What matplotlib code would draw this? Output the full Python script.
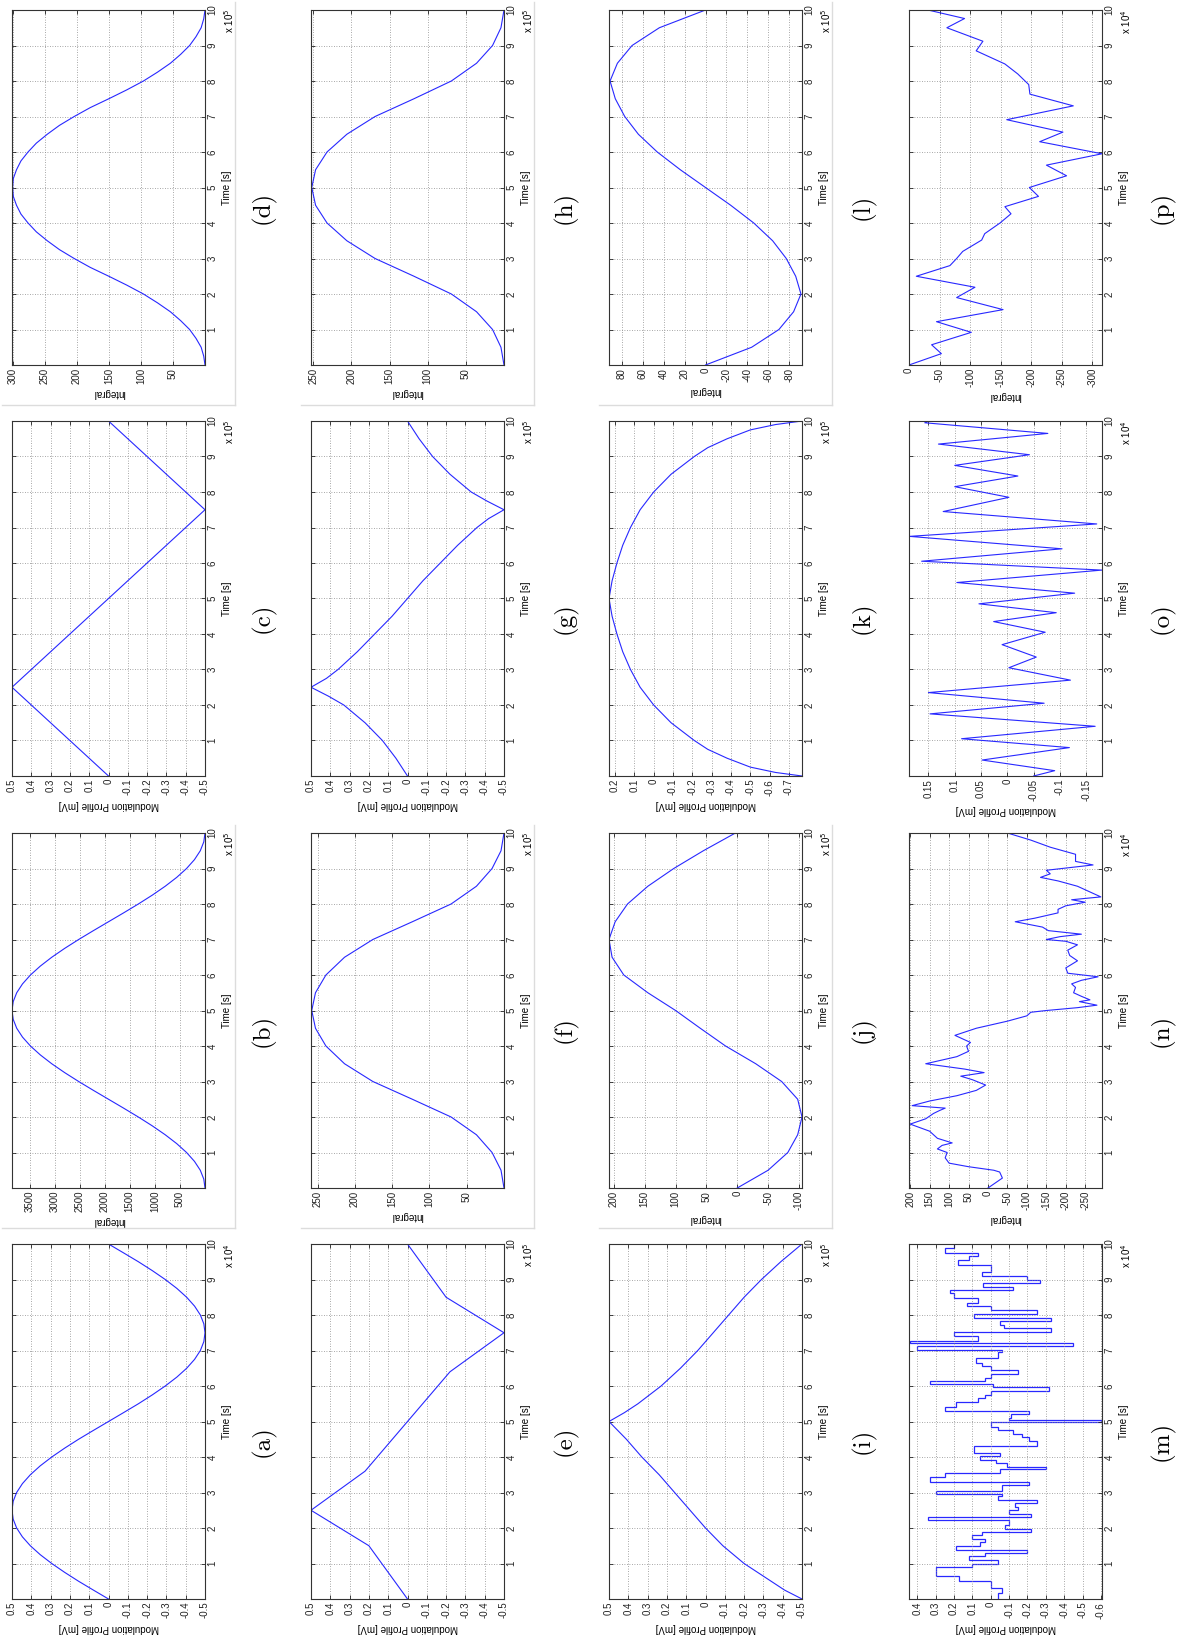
import matplotlib
matplotlib.use("Agg")
import matplotlib.pyplot as plt
from matplotlib.lines import Line2D
from matplotlib.transforms import offset_copy

# ---- data (time in units of 10^4 / 10^5 s, as on the axes) ----
t_half = [0, 0.5, 1, 1.5, 2, 2.5, 3, 3.5, 4, 4.5, 5,
          5.5, 6, 6.5, 7, 7.5, 8, 8.5, 9, 9.5, 10]
t_quarter = [0, 0.25, 0.5, 0.75, 1, 1.25, 1.5, 1.75, 2, 2.25, 2.5, 2.75, 3, 3.25, 3.5,
             3.75, 4, 4.25, 4.5, 4.75, 5, 5.25, 5.5, 5.75, 6, 6.25, 6.5, 6.75, 7, 7.25,
             7.5, 7.75, 8, 8.25, 8.5, 8.75, 9, 9.25, 9.5, 9.75, 10]

a_vals = [0, 0.078, 0.155, 0.227, 0.294, 0.354, 0.405, 0.446, 0.476, 0.494, 0.5,
          0.494, 0.476, 0.446, 0.405, 0.354, 0.294, 0.227, 0.155, 0.078, 0,
          -0.078, -0.155, -0.227, -0.294, -0.354, -0.405, -0.446, -0.476, -0.494, -0.5,
          -0.494, -0.476, -0.446, -0.405, -0.354, -0.294, -0.227, -0.155, -0.078, 0]
b_vals = [0, 24, 94, 210, 368, 564, 794, 1051, 1330, 1624, 1925, 2226, 2520, 2799, 3057,
          3286, 3482, 3640, 3756, 3826, 3850, 3826, 3756, 3640, 3482, 3286, 3057, 2799, 2520,
          2226, 1925, 1624, 1330, 1051, 794, 564, 368, 210, 94, 24, 0]

c_t = [0, 2.5, 7.5, 10]
c_vals = [0, 0.5, -0.5, 0]
d_vals = [0, 2, 6, 14, 24, 38, 54, 74, 96, 122, 150, 179, 204, 227, 246, 263, 276, 287, 294,
          299, 300, 299, 294, 287, 276, 263, 246, 227, 204, 179, 150, 122, 96, 74, 54, 38, 24,
          14, 6, 2, 0]

e_t = [0, 1.5, 2.5, 3.6, 6.4, 7.5, 8.5, 10]
e_vals = [0, 0.2, 0.5, 0.22, -0.22, -0.5, -0.2, 0]
f_vals = [0, 4, 16, 37, 71, 123, 176, 214, 239, 253, 258,
          253, 239, 214, 176, 123, 71, 37, 16, 4, 0]

g_t = [0, 0.5, 1, 1.5, 2, 2.25, 2.5, 2.75, 3, 3.5, 4, 4.5, 5,
       5.5, 6, 6.5, 7, 7.25, 7.5, 7.75, 8, 8.5, 9, 9.5, 10]
g_vals = [0, 0.06, 0.13, 0.22, 0.33, 0.41, 0.5, 0.42, 0.36, 0.26, 0.17, 0.08, 0,
          -0.08, -0.17, -0.26, -0.36, -0.42, -0.5, -0.41, -0.33, -0.22, -0.13, -0.06, 0]
h_vals = [0, 4, 15, 36, 69, 118, 169, 206, 232, 247, 252,
          247, 232, 206, 169, 118, 69, 36, 15, 4, 0]

i_t = [0, 0.25, 0.5, 1, 1.5, 2, 2.5, 3, 3.5, 4, 4.5, 5,
       5.25, 5.5, 6, 6.5, 7, 7.5, 8, 8.5, 9, 9.5, 10]
i_vals = [-0.5, -0.41, -0.34, -0.2, -0.09, 0.0, 0.08, 0.16, 0.24, 0.33, 0.41, 0.5,
          0.42, 0.35, 0.23, 0.13, 0.04, -0.04, -0.12, -0.2, -0.29, -0.39, -0.5]
j_vals = [0, -50, -82, -98, -105, -98, -72, -30, 19, 60, 100,
          145, 184, 203, 208, 198, 178, 145, 103, 55, 3]

k_t = [0, 0.1, 0.25, 0.5, 0.75, 1, 1.5, 2, 2.5, 3, 3.5, 4, 4.5, 5,
       5.5, 6, 6.5, 7, 7.5, 8, 8.5, 9, 9.25, 9.5, 9.75, 9.9, 10]
k_vals = [-0.767, -0.63, -0.5, -0.38, -0.28, -0.21, -0.09, 0.0, 0.07, 0.12, 0.16, 0.19, 0.215, 0.231,
          0.215, 0.19, 0.16, 0.12, 0.07, 0.0, -0.09, -0.21, -0.28, -0.38, -0.5, -0.63, -0.767]
l_vals = [0, -44, -70, -84, -91, -86, -77, -64, -46, -24, 0,
          24, 46, 64, 77, 86, 91, 84, 70, 44, 0]

m_edges = [0, 0.17, 0.32, 0.5, 0.65, 0.9, 0.98, 1.1, 1.2, 1.3, 1.38, 1.5, 1.6, 1.7, 1.8,
           1.9, 1.97, 2.08, 2.22, 2.32, 2.4, 2.5, 2.6, 2.7, 2.8, 2.9, 2.95, 3.05, 3.2, 3.3,
           3.43, 3.55, 3.65, 3.72, 3.82, 3.92, 4.02, 4.1, 4.3, 4.45, 4.55, 4.65, 4.75, 4.85,
           4.98, 5.03, 5.1, 5.2, 5.3, 5.42, 5.55, 5.65, 5.75, 5.85, 5.97, 6.05, 6.15, 6.22,
           6.35, 6.45, 6.55, 6.65, 6.8, 6.95, 7.02, 7.12, 7.2, 7.28, 7.4, 7.52, 7.62, 7.72,
           7.82, 7.92, 8.02, 8.15, 8.25, 8.35, 8.48, 8.62, 8.7, 8.8, 8.9, 8.98, 9.1, 9.2,
           9.4, 9.55, 9.65, 9.75, 9.88, 10.0]
m_vals = [-0.04, -0.06, 0.0, 0.17, 0.30, 0.10, -0.04, 0.12, 0.03, -0.2, 0.19, 0.06, 0.03, 0.1,
          0.05, -0.22, -0.08, -0.1, 0.34, -0.22, -0.1, -0.15, -0.13, -0.25, -0.04, -0.06, 0.3,
          -0.06, -0.21, 0.33, 0.25, -0.05, -0.3, -0.09, -0.03, 0.06, -0.05, 0.09, -0.25, -0.21,
          -0.17, -0.12, -0.04, 0.0, -0.6, -0.1, -0.11, -0.21, 0.25, 0.19, 0.07, 0.03, 0.0,
          -0.32, -0.01, 0.33, 0.03, 0.0, -0.15, 0.0, 0.05, 0.08, -0.04, -0.06, 0.4, -0.45,
          0.44, 0.07, 0.2, -0.33, -0.07, -0.05, -0.33, 0.09, -0.25, 0.0, 0.13, 0.07, 0.2,
          0.22, -0.12, 0.04, -0.27, -0.2, 0.05, 0.0, 0.18, 0.12, 0.07, 0.25, 0.2]

n_t = [0, 0.28, 0.45, 0.5, 0.6, 0.7, 0.85, 1.0, 1.1, 1.2, 1.27, 1.4, 1.6, 1.8, 1.95, 2.1,
       2.18, 2.25, 2.32, 2.45, 2.6, 2.75, 2.9, 3.05, 3.15, 3.25, 3.35, 3.5, 3.6, 3.7, 3.85,
       4.0, 4.1, 4.3, 4.5, 4.7, 4.85, 4.95, 5.0, 5.08, 5.15, 5.25, 5.3, 5.4, 5.5, 5.65, 5.75,
       5.85, 5.95, 6.05, 6.2, 6.4, 6.55, 6.7, 6.85, 6.95, 7.0, 7.08, 7.15, 7.25, 7.35, 7.5,
       7.6, 7.75, 7.85, 7.95, 8.05, 8.12, 8.2, 8.35, 8.5, 8.65, 8.75, 8.85, 8.95, 9.1, 9.2,
       9.4, 9.6, 9.8, 10.0]
n_vals = [0, -37, -30, -15, 50, 100, 110, 105, 130, 118, 92, 130, 150, 200, 160, 140,
          125, 110, 195, 150, 80, 30, 6, 40, 70, 10, 60, 160, 120, 80, 50,
          55, 45, 85, 30, -50, -100, -110, -150, -230, -280, -235, -262, -240, -220, -225, -215,
          -240, -283, -205, -200, -230, -210, -205, -230, -200, -150, -185, -240, -155, -140, -70,
          -120, -180, -180, -200, -250, -215, -290, -260, -230, -180, -135, -160, -150, -270, -225,
          -225, -160, -110, -50]

o_t = [0, 0.15, 0.45, 0.8, 1.05, 1.4, 1.75, 2.05, 2.35, 2.7, 3.05, 3.35, 3.7, 4.05, 4.35,
       4.6, 4.85, 5.15, 5.45, 5.8, 6.05, 6.4, 6.75, 7.1, 7.45, 7.85, 8.15, 8.45, 8.75, 9.05,
       9.35, 9.65, 9.95, 10.0]
o_vals = [-0.05, -0.09, 0.048, -0.118, 0.087, -0.167, 0.147, -0.07, 0.15, -0.12, -0.003,
          -0.055, 0.01, -0.072, 0.026, -0.093, 0.054, -0.128, 0.096, -0.18, 0.163, -0.104,
          0.186, -0.17, 0.122, -0.003, 0.1, -0.02, 0.1, -0.042, 0.131, -0.077, 0.157, 0.15]

p_t = [0, 0.32, 0.57, 0.92, 1.22, 1.56, 1.9, 2.19, 2.5, 2.8, 3.0, 3.2, 3.52, 3.7, 4.0, 4.26,
       4.46, 4.75, 5.0, 5.33, 5.63, 5.95, 6.29, 6.56, 6.91, 7.3, 7.63, 7.9, 8.2, 8.48, 8.85,
       9.12, 9.5, 9.76, 10.0]
p_vals = [0, -53, -37, -102, -45, -154, -78, -108, -12, -67, -78, -88, -119, -124, -149, -167,
          -157, -212, -197, -258, -225, -316, -214, -252, -160, -269, -198, -196, -178, -157, -110,
          -121, -62, -91, -31]

time_ticks = [1, 2, 3, 4, 5, 6, 7, 8, 9, 10]
mv_ticks = [0.5, 0.4, 0.3, 0.2, 0.1, 0, -0.1, -0.2, -0.3, -0.4, -0.5]

mod_label = "Modulation Profile [mV]"
int_label = "Integral"

# letter: (time, values, limits, ticks, label, exponent)
panels = {
    "a": (t_quarter, a_vals, (-0.5, 0.5), mv_ticks, mod_label, 4),
    "b": (t_quarter, b_vals, (0, 3850), [500, 1000, 1500, 2000, 2500, 3000, 3500], int_label, 5),
    "c": (c_t, c_vals, (-0.5, 0.5), mv_ticks, mod_label, 5),
    "d": (t_quarter, d_vals, (0, 301), [50, 100, 150, 200, 250, 300], int_label, 5),
    "e": (e_t, e_vals, (-0.5, 0.5), mv_ticks, mod_label, 5),
    "f": (t_half, f_vals, (0, 259), [50, 100, 150, 200, 250], int_label, 5),
    "g": (g_t, g_vals, (-0.5, 0.5), mv_ticks, mod_label, 5),
    "h": (t_half, h_vals, (0, 253), [50, 100, 150, 200, 250], int_label, 5),
    "i": (i_t, i_vals, (-0.5, 0.5), mv_ticks, mod_label, 5),
    "j": (t_half, j_vals, (-105, 208), [200, 150, 100, 50, 0, -50, -100], int_label, 5),
    "k": (k_t, k_vals, (-0.767, 0.231), [0.2, 0.1, 0, -0.1, -0.2, -0.3, -0.4, -0.5, -0.6, -0.7], mod_label, 5),
    "l": (t_half, l_vals, (-92, 92), [80, 60, 40, 20, 0, -20, -40, -60, -80], int_label, 5),
    "m": (m_edges, m_vals, (-0.606, 0.445), [0.4, 0.3, 0.2, 0.1, 0, -0.1, -0.2, -0.3, -0.4, -0.5, -0.6], mod_label, 4),
    "n": (n_t, n_vals, (-293, 203), [200, 150, 100, 50, 0, -50, -100, -150, -200, -250], int_label, 4),
    "o": (o_t, o_vals, (-0.18, 0.187), [0.15, 0.1, 0.05, 0, -0.05, -0.1, -0.15], mod_label, 4),
    "p": (p_t, p_vals, (-316, 0), [0, -50, -100, -150, -200, -250, -300], int_label, 4),
}

W, H = 1177, 1637
plt.rcParams["font.family"] = ["Liberation Sans", "DejaVu Sans"]

fig = plt.figure(figsize=(W / 100, H / 100), dpi=100)

col_left = [12, 311, 609, 909]
row_top = [10, 421, 833, 1244]
ax_w, ax_h = 193, 355
cap_x = [263, 565, 863, 1162]

line_col = "#2828ff"
frame_col = "#dcdcdc"

for idx, letter in enumerate("abcdefghijklmnop"):
    col = idx // 4
    row = 3 - idx % 4
    t, vals, lim, vticks, vname, expo = panels[letter]
    x0 = col_left[col]
    y0 = row_top[row]
    ax = fig.add_axes([x0 / W, 1 - (y0 + ax_h) / H, ax_w / W, ax_h / H])

    if letter == "m":
        ax.stairs(vals, t, orientation="horizontal", baseline=None, color=line_col, lw=0.9)
    else:
        ax.plot(vals, t, color=line_col, lw=0.8)

    # page is turned: value axis runs right-to-left, time runs upward
    ax.set_xlim(lim[1], lim[0])
    ax.set_ylim(0, 10)
    ax.set_xticks(vticks)
    ax.set_xticklabels(["%g" % v for v in vticks])
    ax.set_yticks(time_ticks)
    ax.set_yticklabels([str(v) for v in time_ticks])
    ax.tick_params(direction="in", top=True, bottom=True, left=True, right=True,
                   labelleft=False, labelright=True, length=3, width=0.6,
                   labelsize=7, pad=2, colors="#222222")
    ax.tick_params(axis="x", labelrotation=90)
    ax.tick_params(axis="y", labelrotation=90)
    for lbl in ax.get_yticklabels():
        lbl.set_va("center")
    ax.grid(True, ls=(0, (1, 2)), color="#8a8a8a", lw=0.6)
    for s in ax.spines.values():
        s.set_color("#333333")
        s.set_linewidth(0.8)

    ax.set_xlabel(vname, rotation=180, fontsize=7, labelpad=3)
    ax.yaxis.set_label_position("right")
    ax.set_ylabel("Time [s]", rotation=90, fontsize=7, labelpad=3)

    tr = offset_copy(ax.transAxes, fig=fig, x=17, y=1, units="dots")
    ax.text(1, 1, r"x 10$^{%d}$" % expo, transform=tr, rotation=90,
            ha="left", va="top", fontsize=7)

    fig.text(cap_x[col] / W, 1 - (y0 + 197) / H, "(%s)" % letter, rotation=90,
             ha="center", va="center", fontsize=18, family="cmr10")

    # light frame of the pasted integral screenshots
    if letter in "bdfhjl":
        xf = (x0 + ax_w + 30) / W
        yb = 1 - (y0 + ax_h + 40) / H
        fig.add_artist(Line2D([xf, xf], [1 - (y0 - 8) / H, yb],
                              transform=fig.transFigure, color=frame_col, lw=1))
        fig.add_artist(Line2D([(x0 - 10) / W, xf], [yb, yb],
                              transform=fig.transFigure, color=frame_col, lw=1))

fig.savefig("out.png", dpi=100)
